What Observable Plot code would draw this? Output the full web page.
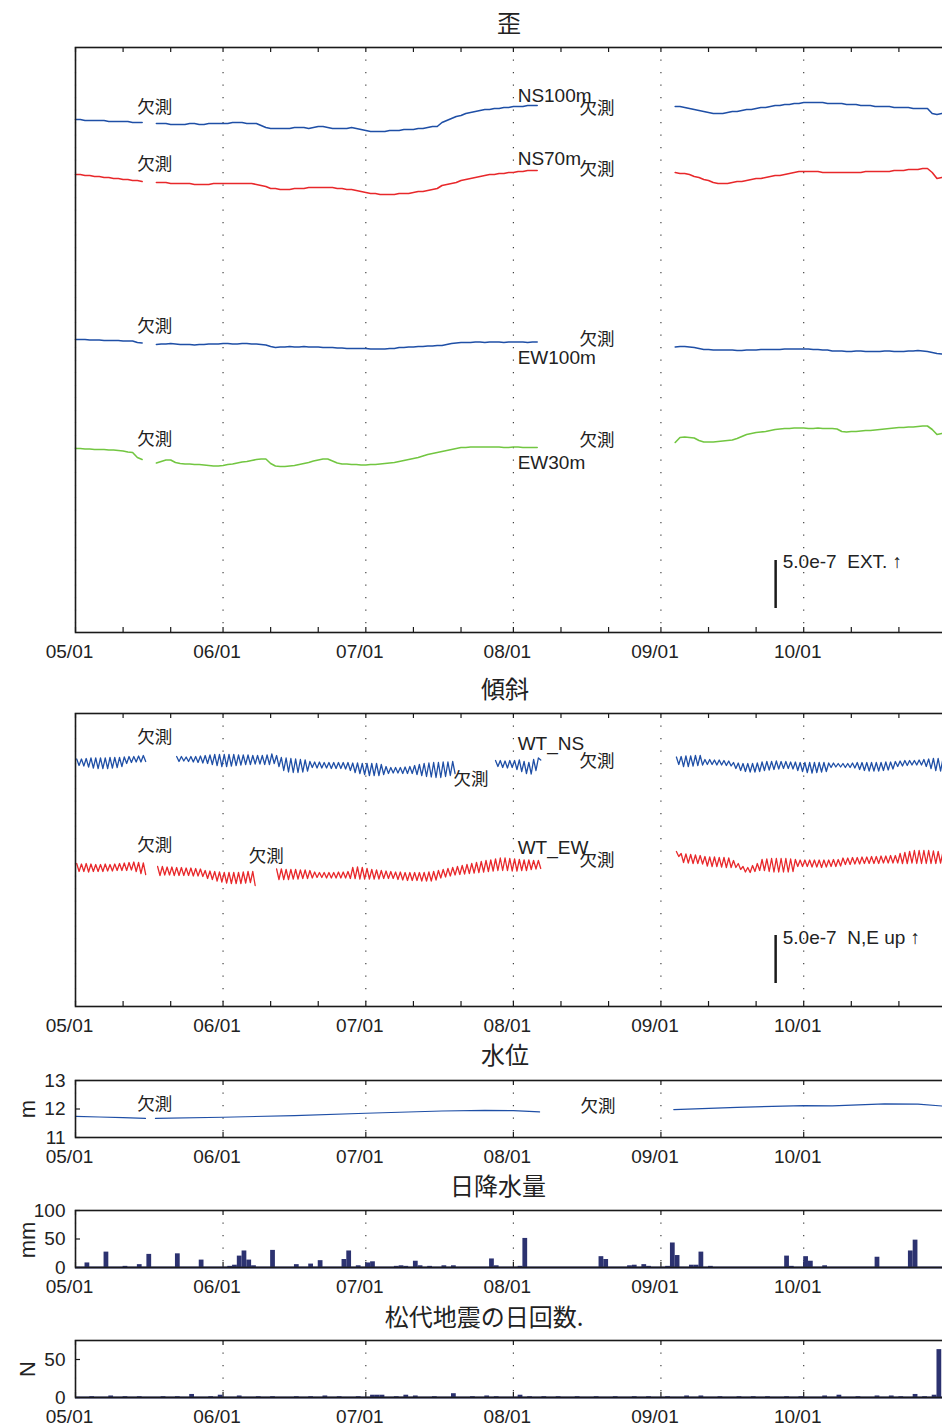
<!DOCTYPE html>
<html><head><meta charset="utf-8">
<script src="https://cdn.jsdelivr.net/npm/d3@7"></script>
<script src="https://cdn.jsdelivr.net/npm/@observablehq/plot@0.6"></script>
<style>
html,body{margin:0;padding:0;background:#fff;overflow:hidden;}
#root{position:relative;width:942px;height:1423px;overflow:hidden;font-family:"Liberation Sans","Noto Sans CJK JP",sans-serif;color:#222;}
.panel{position:absolute;left:0;}
.title{position:absolute;transform:translate(-50%,-50%);font-size:24px;white-space:nowrap;font-family:"Noto Sans CJK JP","Liberation Sans",sans-serif;color:#222;}
.ylab{position:absolute;transform:translate(-50%,-50%) rotate(-90deg);font-size:22px;white-space:nowrap;color:#222;}
</style></head><body><div id="root"></div>
<script>
// ---------- data ----------
// x: days after 05/01; strain/tilt values are relative offsets (1 unit ~ 1.04e-8)
const monthLabels = ["05/01","06/01","07/01","08/01","09/01","10/01"];

const strainSegs = [[0,14],[17,97],[126,182]];
const ns100 = [513,513,512,512,512,512,512,511,511,511,511,511,510,510,510,
 509,509,509,508,508,508,508,509,509,508,508,509,509,509, 509,509,510,510,510,509,509,509, 507,505,504,504,
 504,504,504,505,505,505,504,505,506,506, 505,504,504,504,504,505,504, 503,502,501,501, 501,501,502,502,502,503,503,
 503,504,504,505,506,506, 510,512,514,516,517,519,520,521,522, 523,523,524,524,525,525,526, 526,526,527,527,527,
 526,526,525,524, 523,522,521,520,519,519, 519,520,521,521,522,523,523,524,525,525,526,527,527,528,528,529,529,530,530,
 530,530,530,529,529, 529,529,528,528,528,527,527,527,526,526,526,526,525,525,525,525,524,524,524,524, 519,518,519];
const ns70 = [458,458,457,457,456,456,455,455,454,454,453,453,452,452,451,
 450,450,450,449,449,449,449,449,448,448,448,448,449,449, 449,449,449,449,449,449,449,448,447, 446,444,444,
 443,443,443,444,444,444,445,445,445,445, 445,445,444,444,443,443,442, 441,440,439,439, 438,438,438,438,439,439,439,
 440,441,441,442,443,444, 447, 448,449,450,452,453,454,455,456, 457,458,458,459,459,460,460, 461,461,462,462,462,
 460,459,459,458, 456,455,453,452,450,449, 449, 449,450,451,451,452,453,454,454,455,456,457,457,458,459,460,461,
 461,461,461,461,460,460,460,460,460,460,460,460,460,461,461,461,461,461,461,462, 462,462,463,463,463,464,464, 460,454,455];
const ew100 = [293,293,293,292.5,292.5,292.5,292,292,292,292,291.5,291.5,291.5,290,289.5,
 288,288.5,288.5,289,288.5,288,288,288,287.5,288,288,288.5,288.5,288.5,289,289,288.5,288.5,289,289,288.5,288.5,288,287.5,
 286,285, 285.5,285.5,286,285.5,285.5,286,285.5,285.5,285.5,285,285,285,
 284.5,284.5,284,284,284,284,284,283.5,283.5,283.5,283.5,284,284, 285,285,285.5,285.5,286,286,286.5,286.5,287,287,
 288,289,289.5, 290,290,290,290.5,290.5,290,290.5,290.5,290.5,290,290.5,290.5,290.5,290.5,290,290.5,290.5,
 285.5,286,286,285.5,285,284, 283,283,282.5,282.5,282.5,282.5,282.5,282,282,282.5,282.5,282.5,283,283,283,283,283,283.5,283.5,283.5,283.5,
 283.5,283.5,283,283,282.5,282.5, 281.5,281.5,281.5,281,281,281.5,281.5,281,281,281,281,281.5,281.5,281,281,281,
 281.5,281.5,282,281.5,281, 280,279,278.5];
const ew30 = [184,184,183.5,183.5,183,183,183,182.5,182.5,182,181.5,180.5,180,175,173,
 169.5,171,172.5,172.5,170, 169,168.5,168.5,168,168,167.5,167,166.5,166.5, 167,168,168.5,169.5,170.5,171,172,173,173.5,
 173.5,169,166.5, 166,166,166.5, 167,168,169,170,171.5,172.5,173.5, 173.5,171.5,169.5, 168.5,168.5,168,168,167.5,167.5,168,168,
 168.5,169,169.5,170, 171,172,173, 174,175,176.5,178,179,180, 181,182,183,184,
 185,185,185.5,185.5,185.5,185.5,185.5,185.5,185.5,185,185,185.5,185.5,185,185,185,185,
 190, 195,195.5,195,194.5, 192, 190.5,190.5,190.5,191,191.5,192,192.5, 194,196,198,199, 200,200.5,201,202,203,203.5,
 204,204,204.5,204.5,204.5,204,204,204.5,204,204,204,203.5, 201,200.5, 201,201,201.5,202,202,202.5,203,203.5,
 204,204.5,205,205,205.5,205.5,206,206.5,206.5, 203,198,199];

const wtNsSegs = [[0,14],[21,79],[88,97],[126,182]];
const wtNsHi = [247.5,247.5,248,248.5,248.5,248.5,248.5,249,249,249,249.5,250,250,250.5,251,
 250,250,249.5,250,250,250.5, 251,251.5,252,252,252,252,252,251.5,251.5,251.5,251,251,251,251.5,252.5,
 251,249,248.5,248,247.5,247,246.5, 245,244.5,244.5,244,244,244,244,244, 244,243.5,243.5,243,243,243,
 243,242,240,239,239, 239,239.5,240, 241,242,243,243.5,244,244,244.5,244.5,245,
 246,246,245.5,246,246,246.5,245,244,247,248.5,
 249.5,250,250.5,250.5,251,251, 247,247,246.5,246.5,246,245.5, 244,243.5,243,243,243,243.5,
 244.5,245,245,245.5,245,245,244.5, 244.5,244,244,244,244,244,244, 243.5,243.5,243,243,243,243.5,
 244,244,244,244,244,244,244.5,244.5, 245,245.5,246,246,246,246.5, 247,247.5,248,248,247.5];
const wtNsLo = [241,240.5,239.5,238.5,238,238,238,238.5,239,240,243,244,244.5,244.5,245,
 245,245.5,245,244.5,244,243.5, 243,242,241,240,240,240.5,241,241.5,242,242,242.5,242.5,242,242,243,
 240,236,234.5,234,234,234.5,235.5, 239,238.5,238.5,238.5,238,238,238,237.5, 236,234,233,232,231,231,
 231,232,233,233.5,233.5, 233,233,233, 232,231,230,229.5,229,229,230,231,233,
 240,239,238.5,239,237,235,233,232.5,236,246.5,
 242,240,240,240.5,241,241.5, 242,242,241.5,241.5,241,240.5, 238,236,235,234.5,234.5,235,
 236,236.5,237,237.5,238,238,237.5, 236,235,234,233.5,234,234.5,235, 239,239.5,239.5,239,239,238.5,
 237,236,235.5,235.5,235.5,236,236.5,237.5, 240,240.5,241,241.5,241.5,241.5, 240,238,236,235.5,235.5];

const wtEwSegs = [[0,14],[17,37],[42,97],[126,182]];
const wtEwHi = [143,142.5,143,142.5,142,142,142.5,142,142.5,143,143.5,144,144.5,144,143.5,
 140,140,139.5,139.5,139,139,138.5,138.5,138,137.5, 136,135.5,135,134.5,134,134,134,134,134.5,135,135,
 137.5,137.5,137,137,137,136.5,136.5,136, 134.5,134,134,134,134,134.5,134.5,135, 139,139.5,139,138,137,
 136.5,136,135.5,135, 134.5,134.5,134,134,134,134,134,134.5,135,
 136,137,138,139,140,141,142,143,144,145,146,146.5,147.5,148.5, 148.5,148,147.5,147,146.5,146.5,146,146,
 155, 153,152.5,152,151.5,151, 150,149.5,149.5,149,149,148.5, 146,143,140, 139,141,143,
 147,147.5,148,148,148,148,147.5, 147,146.5,146.5,146.5,146.5,146.5,146.5,146.5,147,147,
 148.5,148.5,149,149,149.5,149.5,150,150,150.5,150.5,151,151, 153,154,155,156,156,156,156,155.5,155,154.5];
const wtEwLo = [135,135,134.5,135,135,135,135.5,135.5,136,136,136,136.5,135,133,132,
 131,131.5,131.5,131,131,131,131,130.5,130.5,130, 128,127,125.5,124.5,123.5,123,123,123,123.5,124,121,
 127,127,127,127.5,127.5,128,128,128.5, 129,129,128.5,128.5,128.5,128.5,128.5,128, 128,127.5,127.5,127.5,127.5,
 127.5,128,128,128, 127,126.5,126,126,126,125.5,125.5,125.5,126.5,
 128.5,129.5,130.5,131.5,132,132.5,133,133.5,134,134.5,135,135.5,136,136, 136,135.5,135.5,136,136,137,137.5,138,
 150, 144,143.5,143,143,142.5, 140.5,140,140,139.5,139,139, 139,137,134.5, 134,135,136,
 136,135,134.5,134.5,134.5,134.5,135, 140,140,140,139.5,139.5,139,139.5,140,140,140.5,
 142,142,142.5,142.5,143,143,143,143,143.5,143.5,143.5,143.5, 143,143,143.5,143,143,143,143,143,143.5,143.5];

const wlDays   = [0,5,10,14.7,15.5,16.8,31,46,61,77,86,92,97.5,110,125.7,139,153,159,170,177,182.5];
const wlValues = [11.74,11.72,11.70,11.67,null,11.67,11.71,11.77,11.85,11.93,11.95,11.94,11.90,null,11.98,12.06,12.12,12.11,12.18,12.17,12.10];

const rainDays = [2,6,10,13,15,21,26,32,33,34,35,36,37,41,46,49,51,56,57,59,61,62,67,68,69,71,72,74,77,79,87,88,93,94,110,111,116,117,119,120,124,125,126,129,130,131,133,149,150,153,154,157,168,175,176];
const rainMm   = [8,27,2,5,23,24,13,2,4,20,29,13,3,30,5,6,12,14,29,3,8,10,2,3,2,11,3,2,3,3,15,3,2,51,19,14,3,4,5,2,2,43,21,4,4,27,2,20,2,19,11,3,18,29,48];

const quakeDays   = [3,7,10,13,18,21,24,28,30,34,38,41,46,49,52,55,59,62,63,64,67,69,71,75,79,83,86,88,93,95,98,101,105,109,113,117,120,124,128,131,135,139,142,145,149,152,157,160,164,168,171,173,176,178,180,181];
const quakeCounts = [1,2,1,1,1,1,4,1,3,2,1,1,1,1,2,1,1,3,3,3,1,3,2,1,5,1,2,1,3,1,1,1,1,1,1,1,1,1,2,2,1,1,1,1,1,1,2,3,1,2,2,1,4,1,3,63];

const wlTicks = [11,12,13], rainTicks = [0,50,100], quakeTicks = [0,50];

// annotations: [text, day, value]
const strainNotes = [["欠測",13.0,525],["欠測",13.0,468],["欠測",13.0,306],["欠測",13.0,193],
 ["NS100m",92.9,537],["欠測",105.9,524],["NS70m",92.9,474],["欠測",105.9,463],
 ["欠測",105.9,293],["EW100m",92.9,275],["欠測",105.9,192],["EW30m",92.9,170],
 ["5.0e-7\u00a0\u00a0EXT. ↑",148.6,71]];
const tiltNotes = [["欠測",13.0,269],["欠測",13.0,161],["欠測",36.4,150],["欠測",79.4,227],
 ["WT_NS",92.9,263],["欠測",105.9,245],["WT_EW",92.9,159],["欠測",105.9,146],
 ["5.0e-7\u00a0\u00a0N,E up ↑",148.6,69]];
const wlNotes = [["欠測",13.0,12.16],["欠測",106.1,12.09]];
const strainBar = [147.1, 24, 72], tiltBar = [147.1, 23, 71];

// ---------- helpers ----------
const FONT = '"Liberation Sans","Noto Sans CJK JP",sans-serif';
const START = Date.UTC(2011, 4, 1);
const day = d => new Date(START + d * 864e5);
const X_DOMAIN = [day(0), day(183)];
const monthTicks = monthLabels.map(s => new Date(Date.UTC(2011, +s.slice(0,2) - 1, +s.slice(3))));
const minorTicks = d3.utcDay.range(day(0), day(184)).filter(d => [1,11,21].includes(d.getUTCDate()));
const BLUE = "#1f4fa6", RED = "#e8282b", GREEN = "#72c641", NAVY = "#2c3270", INK = "#1a1a1a";

function segTable(segs, vals) {
  const out = []; let k = 0;
  segs.forEach(([a, b], s) => { for (let d = a; d <= b; d++) out.push({date: day(d), v: vals[k++], seg: s}); });
  return out;
}
function zigTable(segs, hi, lo) {
  const out = []; let k = 0;
  segs.forEach(([a, b], s) => { for (let d = a; d <= b; d++) {
    out.push({date: day(d + 0.25), v: hi[k], seg: s});
    out.push({date: day(d + 0.75), v: lo[k], seg: s}); k++; } });
  return out;
}
const notes = arr => arr.map(([t, d, v]) => ({t, date: day(d), v}));

const root = document.getElementById("root");
const W = 952, ML = 75, MR = 6, innerW = W - ML - MR;

function addPanel(frameTop, innerH, yDomain, marks, {yTicks = null, minor = true} = {}) {
  const MT = 10, MB = 34;
  const ticks = minor ? minorTicks : monthTicks;
  const chart = Plot.plot({
    width: W, height: MT + innerH + MB,
    marginLeft: ML, marginRight: MR, marginTop: MT, marginBottom: MB,
    style: {fontFamily: FONT, fontSize: "19px", color: "#222", background: "transparent", overflow: "visible", maxWidth: "none"},
    x: {type: "utc", domain: X_DOMAIN},
    y: yTicks ? {domain: yDomain} : {domain: yDomain, axis: null},
    marks: [
      Plot.ruleX(monthTicks, {stroke: "#333", strokeWidth: 1.1, strokeDasharray: "1.2,11.3"}),
      Plot.ruleX(ticks, {insetTop: innerH - 5, stroke: INK, strokeWidth: 1.2}),
      Plot.ruleX(ticks, {insetBottom: innerH - 5, stroke: INK, strokeWidth: 1.2}),
      ...(yTicks ? [Plot.ruleY(yTicks, {insetRight: innerW - 5, stroke: INK, strokeWidth: 1.2})] : []),
      ...marks,
      Plot.frame({stroke: INK, strokeWidth: 1.6}),
      Plot.axisX({ticks: monthTicks, tickFormat: d3.utcFormat("%m/%d"), tickSize: 0, tickPadding: 12, dx: -6, fontSize: 19, label: null}),
      ...(yTicks ? [Plot.axisY({ticks: yTicks, tickFormat: d3.format("d"), tickSize: 0, tickPadding: 10, fontSize: 19, label: null})] : [])
    ]
  });
  const div = document.createElement("div");
  div.className = "panel"; div.style.top = (frameTop - MT) + "px";
  div.appendChild(chart); root.appendChild(div);
}
function addText(cls, text, x, y) {
  const d = document.createElement("div"); d.className = cls; d.textContent = text;
  d.style.left = x + "px"; d.style.top = y + "px"; root.appendChild(d);
}
const textMark = arr => Plot.text(notes(arr), {x: "date", y: "v", text: "t", textAnchor: "start", fontSize: d => /欠測/.test(d.t) ? 17.5 : 19, fill: "#222"});
const lineOf = (tbl, color, w) => Plot.line(tbl, {x: "date", y: "v", z: "seg", stroke: color, strokeWidth: w});

// ---------- panel 1: strain ----------
addPanel(47, 585, [0, 585], [
  lineOf(segTable(strainSegs, ns100), BLUE, 1.6),
  lineOf(segTable(strainSegs, ns70), RED, 1.6),
  lineOf(segTable(strainSegs, ew100), BLUE, 1.6),
  lineOf(segTable(strainSegs, ew30), GREEN, 1.6),
  Plot.ruleX([day(strainBar[0])], {y1: strainBar[1], y2: strainBar[2], stroke: INK, strokeWidth: 2.5}),
  textMark(strainNotes)
]);
// ---------- panel 2: tilt ----------
addPanel(713, 293, [0, 293], [
  lineOf(zigTable(wtNsSegs, wtNsHi, wtNsLo), BLUE, 1.3),
  lineOf(zigTable(wtEwSegs, wtEwHi, wtEwLo), RED, 1.3),
  Plot.ruleX([day(tiltBar[0])], {y1: tiltBar[1], y2: tiltBar[2], stroke: INK, strokeWidth: 2.5}),
  textMark(tiltNotes)
]);
// ---------- panel 3: water level ----------
addPanel(1080, 57, [11, 13], [
  Plot.line(wlDays.map((d, i) => ({date: day(d), v: wlValues[i]})), {x: "date", y: "v", stroke: BLUE, strokeWidth: 1.2}),
  textMark(wlNotes)
], {yTicks: wlTicks, minor: false});
// ---------- panel 4: daily precipitation ----------
addPanel(1210, 57, [0, 100], [
  Plot.rectY(rainDays.map((d, i) => ({d, v: rainMm[i]})), {x1: r => day(r.d), x2: r => day(r.d + 1), y: "v", fill: NAVY}),
  Plot.ruleY([0], {stroke: NAVY, strokeWidth: 2})
], {yTicks: rainTicks, minor: false});
// ---------- panel 5: daily earthquake count ----------
addPanel(1340, 57, [0, 75], [
  Plot.rectY(quakeDays.map((d, i) => ({d, v: quakeCounts[i]})), {x1: r => day(r.d), x2: r => day(r.d + 1), y: "v", fill: NAVY}),
  Plot.ruleY([0], {stroke: NAVY, strokeWidth: 2})
], {yTicks: quakeTicks, minor: false});

// ---------- titles and y labels ----------
addText("title", "歪", 509, 21);
addText("title", "傾斜", 505, 687);
addText("title", "水位", 505, 1053);
addText("title", "日降水量", 498, 1184);
addText("title", "松代地震の日回数.", 484, 1315);
addText("ylab", "m", 28, 1109);
addText("ylab", "mm", 28, 1240);
addText("ylab", "N", 28, 1369);
</script></body></html>
